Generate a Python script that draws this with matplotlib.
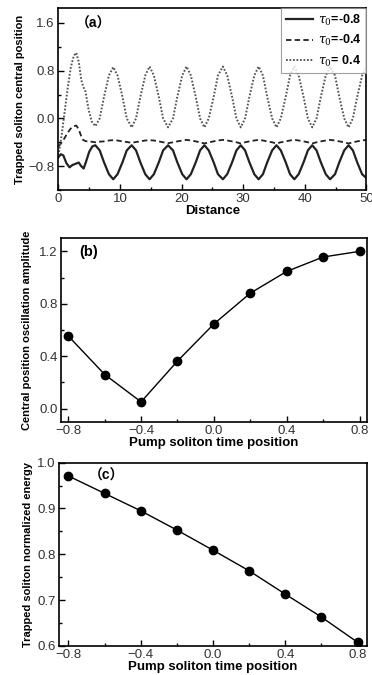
import matplotlib
matplotlib.use("Agg")
import matplotlib.pyplot as plt
from matplotlib.ticker import MultipleLocator

plt.rcParams['font.family'] = ['Liberation Sans', 'Noto Sans CJK SC', 'DejaVu Sans']
plt.rcParams['mathtext.fontset'] = 'dejavuserif'

# ---- panel (a): central position vs distance
dist_a = [0, 0.5, 1.0, 1.5, 2.0, 2.5, 2.9, 3.3, 3.7, 4.0, 4.4, 4.9, 5.4, 6.0,
          6.7, 7.4, 8.2, 8.9, 9.6, 10.4, 11.1, 11.9,
          12.6, 13.3, 14.1, 14.8, 15.5, 16.3, 17.0, 17.8,
          18.6, 19.3, 20.1, 20.8, 21.5, 22.3, 23.0, 23.7,
          24.4, 25.2, 25.9, 26.7, 27.4, 28.2, 28.9, 29.6,
          30.3, 31.0, 31.8, 32.5, 33.2, 33.9, 34.7, 35.4,
          36.1, 36.9, 37.6, 38.3, 39.0, 39.8, 40.5, 41.2,
          41.9, 42.6, 43.4, 44.1, 44.9, 45.6, 46.4, 47.1,
          47.8, 48.5, 49.3, 50.0]
pos_p04 = [-0.62, -0.3, 0.1, 0.5, 0.85, 1.05, 1.1, 0.95, 0.65, 0.54, 0.45, 0.15, -0.05, -0.13,
           0.0, 0.36, 0.72, 0.86, 0.72, 0.36, 0.0, -0.15,
           0.0, 0.36, 0.72, 0.87, 0.72, 0.36, 0.0, -0.15,
           0.0, 0.36, 0.72, 0.87, 0.72, 0.36, 0.0, -0.15,
           0.0, 0.36, 0.72, 0.87, 0.72, 0.36, 0.0, -0.15,
           0.0, 0.36, 0.72, 0.87, 0.72, 0.36, 0.0, -0.15,
           0.0, 0.36, 0.72, 0.87, 0.72, 0.36, 0.0, -0.15,
           0.0, 0.36, 0.72, 0.87, 0.72, 0.36, 0.0, -0.15,
           0.0, 0.36, 0.72, 0.86]
pos_m04 = [-0.47, -0.41, -0.33, -0.24, -0.17, -0.13, -0.12, -0.18, -0.3, -0.36, -0.38, -0.39, -0.39, -0.4,
           -0.39, -0.385, -0.37, -0.365, -0.37, -0.385, -0.395, -0.41,
           -0.395, -0.385, -0.37, -0.365, -0.37, -0.385, -0.4, -0.415,
           -0.4, -0.385, -0.37, -0.36, -0.37, -0.385, -0.4, -0.42,
           -0.4, -0.385, -0.37, -0.36, -0.37, -0.385, -0.4, -0.42,
           -0.4, -0.385, -0.37, -0.36, -0.37, -0.385, -0.4, -0.42,
           -0.4, -0.385, -0.37, -0.36, -0.37, -0.385, -0.4, -0.42,
           -0.4, -0.385, -0.37, -0.36, -0.37, -0.385, -0.4, -0.42,
           -0.4, -0.385, -0.37, -0.36]
dist_s = [0, 0.4, 0.8, 1.3, 1.8, 2.3, 2.8, 3.3, 3.7, 4.1, 4.5, 5.0, 5.5, 6.0,
          6.7, 7.4, 8.2, 8.9, 9.6, 10.4, 11.1, 11.9,
          12.6, 13.3, 14.1, 14.8, 15.5, 16.3, 17.0, 17.8,
          18.6, 19.3, 20.1, 20.8, 21.5, 22.3, 23.0, 23.7,
          24.4, 25.2, 25.9, 26.7, 27.4, 28.2, 28.9, 29.6,
          30.3, 31.0, 31.8, 32.5, 33.2, 33.9, 34.7, 35.4,
          36.1, 36.9, 37.6, 38.3, 39.0, 39.8, 40.5, 41.2,
          41.9, 42.6, 43.4, 44.1, 44.9, 45.6, 46.4, 47.1,
          47.8, 48.5, 49.3, 50.0]
pos_m08 = [-0.65, -0.6, -0.62, -0.75, -0.82, -0.78, -0.76, -0.74, -0.8, -0.84, -0.72, -0.56, -0.47, -0.45,
           -0.535, -0.735, -0.935, -1.02, -0.935, -0.735, -0.535, -0.45,
           -0.535, -0.735, -0.935, -1.02, -0.935, -0.735, -0.535, -0.45,
           -0.535, -0.735, -0.935, -1.02, -0.935, -0.735, -0.535, -0.45,
           -0.535, -0.735, -0.935, -1.02, -0.935, -0.735, -0.535, -0.45,
           -0.535, -0.735, -0.935, -1.02, -0.935, -0.735, -0.535, -0.45,
           -0.535, -0.735, -0.935, -1.02, -0.935, -0.735, -0.535, -0.45,
           -0.535, -0.735, -0.935, -1.02, -0.935, -0.735, -0.535, -0.45,
           -0.535, -0.735, -0.935, -1.0]

# ---- panels (b) and (c)
tau = [-0.8, -0.6, -0.4, -0.2, 0.0, 0.2, 0.4, 0.6, 0.8]
amp = [0.554, 0.26, 0.051, 0.363, 0.646, 0.881, 1.047, 1.157, 1.20]
energy = [0.971, 0.933, 0.895, 0.853, 0.809, 0.764, 0.713, 0.663, 0.608]

tick_fs = 9.5
lab_fs = 8
xlab_fs = 9.5

def style(ax):
    for s in ax.spines.values():
        s.set_linewidth(1.2)
    ax.tick_params(which='both', direction='in', labelsize=tick_fs, labelcolor='#333333',
                   width=1.0, pad=2.5)
    ax.tick_params(which='major', length=4)
    ax.tick_params(which='minor', length=2.5)

fig = plt.figure(figsize=(3.72, 6.75), dpi=100)

# (a)
ax = fig.add_axes([0.157, 0.7185, 0.828, 0.2696])
ax.plot(dist_s, pos_m08, '-', color='#222222', lw=1.6, label=r'$\tau_0$=-0.8')
ax.plot(dist_a, pos_m04, '--', color='#222222', lw=1.3, dashes=(3, 1.8), label=r'$\tau_0$=-0.4')
ax.plot(dist_a, pos_p04, color='#555555', lw=1.4, dashes=(0.9, 0.9), label=r'$\tau_0$= 0.4')
ax.set_xlim(0, 50)
ax.set_ylim(-1.2, 1.85)
ax.xaxis.set_major_locator(MultipleLocator(10))
ax.xaxis.set_minor_locator(MultipleLocator(5))
ax.yaxis.set_major_locator(MultipleLocator(0.8))
ax.yaxis.set_minor_locator(MultipleLocator(0.4))
ax.set_xlabel('Distance', fontsize=xlab_fs, fontweight='bold', labelpad=0)
ax.set_ylabel('Trapped soliton central position', fontsize=lab_fs, fontweight='bold', labelpad=3)
ax.text(0.055, 0.915, '（a）', transform=ax.transAxes, fontsize=10, fontweight='bold', va='center')
style(ax)
leg = ax.legend(loc='upper right', borderaxespad=0, fancybox=False, edgecolor='#888888',
                handlelength=2.2, handletextpad=0.4, labelspacing=0.45, borderpad=0.35,
                prop={'weight': 'bold', 'size': 9})
leg.get_frame().set_linewidth(0.8)

# (b)
ax = fig.add_axes([0.164, 0.3753, 0.822, 0.2717])
ax.plot(tau, amp, '-o', color='black', lw=1.0, ms=6)
ax.set_xlim(-0.84, 0.84)
ax.set_ylim(-0.1, 1.3)
ax.xaxis.set_major_locator(MultipleLocator(0.4))
ax.xaxis.set_minor_locator(MultipleLocator(0.2))
ax.yaxis.set_major_locator(MultipleLocator(0.4))
ax.yaxis.set_minor_locator(MultipleLocator(0.2))
ax.set_xlabel('Pump soliton time position', fontsize=xlab_fs, fontweight='bold', labelpad=0)
ax.set_ylabel('Central position oscillation amplitude', fontsize=lab_fs, fontweight='bold', labelpad=5)
ax.text(0.06, 0.925, '(b)', transform=ax.transAxes, fontsize=10.5, fontweight='bold', va='center')
style(ax)

# (c)
ax = fig.add_axes([0.1594, 0.043, 0.8263, 0.2716])
ax.plot(tau, energy, '-o', color='black', lw=1.0, ms=6)
ax.set_xlim(-0.85, 0.85)
ax.set_ylim(0.6, 1.0)
ax.xaxis.set_major_locator(MultipleLocator(0.4))
ax.xaxis.set_minor_locator(MultipleLocator(0.2))
ax.yaxis.set_major_locator(MultipleLocator(0.1))
ax.yaxis.set_minor_locator(MultipleLocator(0.05))
ax.set_xlabel('Pump soliton time position', fontsize=xlab_fs, fontweight='bold', labelpad=0)
ax.set_ylabel('Trapped soliton normalized energy', fontsize=lab_fs, fontweight='bold', labelpad=3)
ax.text(0.095, 0.93, '（c）', transform=ax.transAxes, fontsize=10, fontweight='bold', va='center')
style(ax)

fig.savefig('out.png', dpi=100)
